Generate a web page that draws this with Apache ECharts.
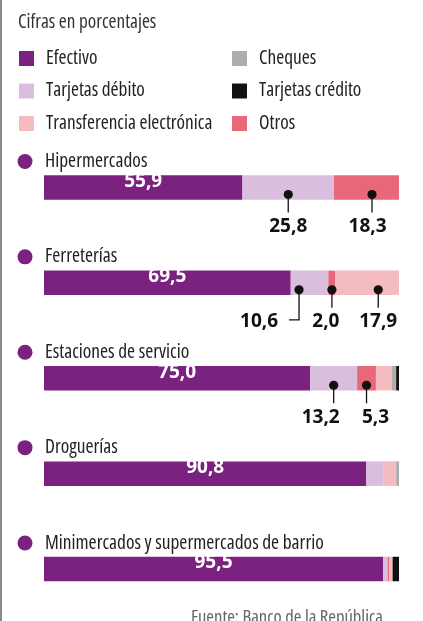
<!DOCTYPE html>
<html>
<head>
<meta charset="utf-8">
<script src="https://cdn.jsdelivr.net/npm/echarts@6/dist/echarts.min.js"></script>
<style>
html,body{margin:0;padding:0;background:#fff;}
#c{width:423px;height:621px;position:relative;}
#edge{position:absolute;left:0;top:0;width:2px;height:621px;background:#8a8a8a;}
</style>
</head>
<body>
<div id="c"></div>
<div id="edge"></div>
<script>
// ---- data ----
const categories = ['Hipermercados', 'Ferreterías', 'Estaciones de servicio', 'Droguerías', 'Minimercados y supermercados de barrio'];
const efectivo      = [55.9, 69.5, 75.0, 90.8, 95.5];
const debito        = [25.8, 10.6, 13.2, 4.9, 1.3];
const otros         = [18.3, 2.0, 5.3, 0, 0.5];
const transferencia = [0, 17.9, 4.4, 3.5, 0.9];
const cheques       = [0, 0, 1.3, 0.8, 0];
const credito       = [0, 0, 0.8, 0, 1.8];
const seriesNames = ['Efectivo', 'Tarjetas débito', 'Otros', 'Transferencia electrónica', 'Cheques', 'Tarjetas crédito'];
const seriesValues = [efectivo, debito, otros, transferencia, cheques, credito];
// which segments carry an external callout label (series index per category)
const calloutSegments = [[1, 2], [1, 2, 3], [1, 2], [], []];

// ---- styling / layout (not data) ----
const colors = ['#7B2180', '#D9BEDD', '#E8687A', '#F4BCC0', '#ADADAD', '#111111'];
const cond = "'Open Sans', 'Roboto Condensed', sans-serif";
const condW = 'condensed';   // font-stretch keyword slotted into the font shorthand
const boldFont = "'Open Sans', 'Noto Sans', sans-serif";
const calloutLayout = {
  '0-2': {dot: 5.5, label: -4.5},
  '1-1': {dot: -10.5, label: -40, elbow: true},
  '1-2': {label: -6},
  '1-3': {dot: 11},
  '2-1': {label: -13},
  '2-2': {label: 9}
};
const fmt = v => v.toFixed(1).replace('.', ',');

// build callout items from data
const calloutMeta = [];
const calloutData = [];
calloutSegments.forEach((segs, ci) => {
  segs.forEach(si => {
    let start = 0;
    for (let k = 0; k < si; k++) start += seriesValues[k][ci];
    const v = seriesValues[si][ci];
    calloutMeta.push({key: ci + '-' + si, value: v});
    calloutData.push([start + v / 2, ci]);
  });
});

const chart = echarts.init(document.getElementById('c'), null, {renderer: 'canvas'});

const barSeries = seriesNames.map((name, si) => ({
  name: name,
  type: 'bar',
  stack: 'total',
  barWidth: 24.5,
  itemStyle: {color: colors[si]},
  silent: true,
  label: si === 0 ? {
    show: true,
    position: 'inside',
    offset: [0, -6],
    color: '#fff',
    fontFamily: boldFont,
    fontWeight: 'bold',
    fontSize: 19,
    formatter: p => fmt(p.value)
  } : {show: false},
  data: seriesValues[si]
}));

const legendText = {color: '#222', fontFamily: cond, fontWeight: condW, fontSize: 19.3, lineHeight: 15, padding: [0, 0, 0, 7]};

const option = {
  animation: false,
  backgroundColor: '#fff',
  title: [
    {text: 'Cifras en porcentajes', left: 18, top: 13, padding: 0,
     textStyle: {fontFamily: cond, fontSize: 19.2, fontWeight: condW, color: '#333'}},
    {text: 'Fuente: Banco de la República', right: 40, top: 608, padding: 0,
     textStyle: {fontFamily: cond, fontSize: 18.6, fontWeight: condW, color: '#666'}}
  ],
  legend: [
    {data: ['Efectivo', 'Tarjetas débito', 'Transferencia electrónica'], orient: 'vertical',
     left: 19, top: 49, padding: 0, itemWidth: 15, itemHeight: 15, itemGap: 13.5, icon: 'rect',
     selectedMode: false, textStyle: legendText},
    {data: ['Cheques', 'Tarjetas crédito', 'Otros'], orient: 'vertical',
     left: 232, top: 49, padding: 0, itemWidth: 15, itemHeight: 15, itemGap: 13.5, icon: 'rect',
     selectedMode: false, textStyle: legendText}
  ],
  grid: {left: 44, right: 24, top: 139.8, bottom: 4.3, containLabel: false},
  xAxis: {type: 'value', min: 0, max: 100, show: false},
  yAxis: {type: 'category', data: categories, inverse: true, show: false},
  series: barSeries.concat([
    {
      type: 'custom',
      name: 'titles',
      coordinateSystem: 'cartesian2d',
      silent: true,
      z: 5,
      encode: {x: 0, y: 1},
      data: categories.map((c, i) => [0, i]),
      renderItem: (params, api) => {
        const p = api.coord([0, params.dataIndex]);
        return {
          type: 'group',
          children: [
            {type: 'circle', shape: {cx: p[0] - 19, cy: p[1] - 26, r: 7.5}, style: {fill: colors[0]}},
            {type: 'text', x: p[0] + 1, y: p[1] - 26,
             style: {text: categories[params.dataIndex], fill: '#222', fontFamily: cond, fontWeight: condW,
                     fontSize: 19.4, align: 'left', verticalAlign: 'middle'}}
          ]
        };
      }
    },
    {
      type: 'custom',
      name: 'callouts',
      coordinateSystem: 'cartesian2d',
      silent: true,
      z: 6,
      encode: {x: 0, y: 1},
      data: calloutData,
      renderItem: (params, api) => {
        const meta = calloutMeta[params.dataIndex];
        const lay = calloutLayout[meta.key] || {};
        const p = api.coord([api.value(0), api.value(1)]);
        const dx = p[0] + (lay.dot || 0);
        const dy = p[1] + 7;
        const lx = dx + (lay.label || 0);
        const pts = lay.elbow
          ? [[dx, dy], [dx, p[1] + 37], [dx - 10, p[1] + 37]]
          : [[dx, dy], [dx, p[1] + 25]];
        return {
          type: 'group',
          children: [
            {type: 'polyline', shape: {points: pts}, style: {stroke: '#111', lineWidth: 1.3, fill: null}},
            {type: 'circle', shape: {cx: dx, cy: dy, r: 4.6}, style: {fill: '#111'}},
            {type: 'text', x: lx, y: p[1] + 39,
             style: {text: fmt(meta.value), fill: '#111', fontFamily: boldFont, fontWeight: 'bold', fontSize: 19,
                     align: 'center', verticalAlign: 'middle'}}
          ]
        };
      }
    }
  ])
};
chart.setOption(option);
</script>
</body>
</html>
